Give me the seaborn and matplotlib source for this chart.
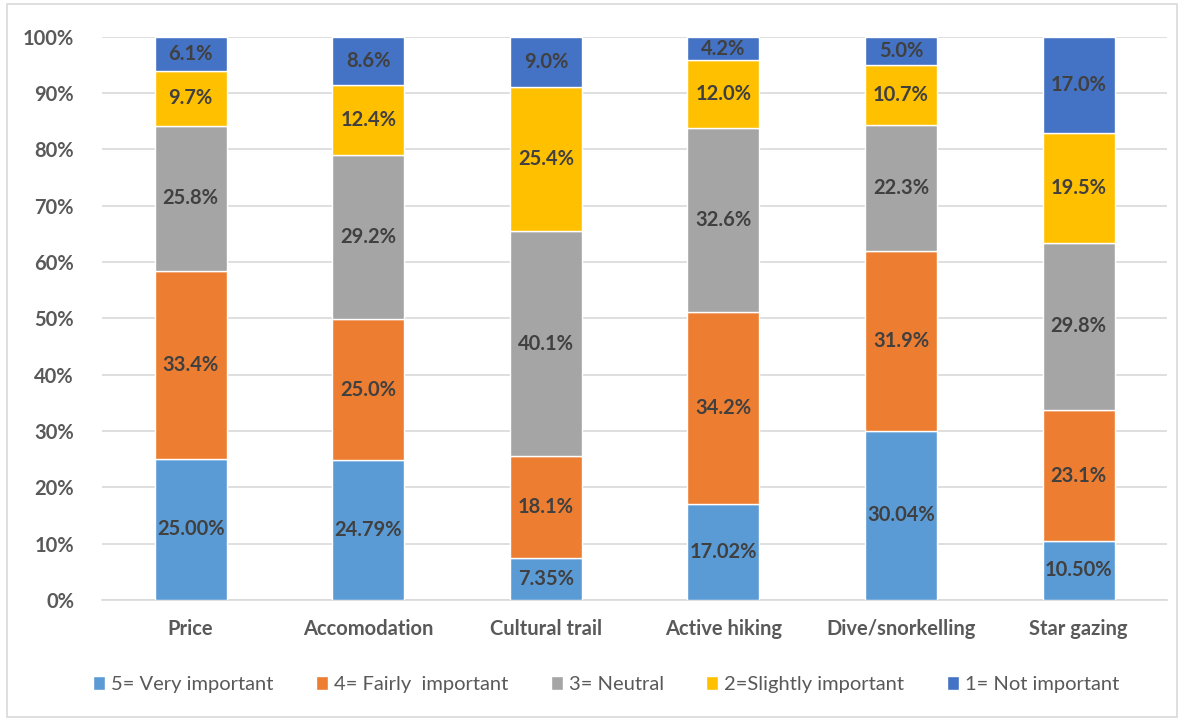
import matplotlib
matplotlib.use("Agg")
import matplotlib.pyplot as plt
import seaborn as sns
import numpy as np
import pandas as pd
from matplotlib.patches import Rectangle

categories = ["Price", "Accomodation", "Cultural trail", "Active hiking", "Dive/snorkelling", "Star gazing"]
series_names = ["5= Very important", "4= Fairly  important", "3= Neutral", "2=Slightly important", "1= Not important"]
very_important = [25.00, 24.79, 7.35, 17.02, 30.04, 10.50]
fairly_important = [33.4, 25.0, 18.1, 34.2, 31.9, 23.1]
neutral = [25.8, 29.2, 40.1, 32.6, 22.3, 29.8]
slightly_important = [9.7, 12.4, 25.4, 12.0, 10.7, 19.5]
not_important = [6.1, 8.6, 9.0, 4.2, 5.0, 17.0]
colors = ["#5B9BD5", "#ED7D31", "#A5A5A5", "#FFC000", "#4472C4"]
label_fmt = ["{:.2f}%", "{:.1f}%", "{:.1f}%", "{:.1f}%", "{:.1f}%"]

series = [very_important, fairly_important, neutral, slightly_important, not_important]
arr = np.array(series, dtype=float)
totals = arr.sum(axis=0)
norm = arr / totals * 100.0

sns.set_theme(style="white")
plt.rcParams['font.family'] = ['Lato', 'DejaVu Sans']

fig = plt.figure(figsize=(11.84, 7.21), dpi=100)
ax = fig.add_axes([0.086, 0.168, 0.900, 0.781])

bottom = np.zeros(len(categories))
for i, name in enumerate(series_names):
    df = pd.DataFrame({"cat": categories, "val": norm[i]})
    sns.barplot(data=df, x="cat", y="val", ax=ax, color=colors[i], bottom=bottom,
                width=0.405, label=name, saturation=1, zorder=3)
    cont = ax.containers[-1]
    labels = [label_fmt[i].format(v) for v in arr[i]]
    ax.bar_label(cont, labels=labels, label_type="center", fontsize=14.5,
                 fontweight="bold", color="#404040")
    bottom = bottom + norm[i]

handles, labs = ax.get_legend_handles_labels()
if ax.get_legend() is not None:
    ax.get_legend().remove()

ax.set_ylim(0, 100)
ax.set_xlim(-0.5, len(categories) - 0.5)
ax.set_yticks(np.arange(0, 101, 10))
ax.set_yticklabels([f"{v}%" for v in range(0, 101, 10)])
ax.yaxis.grid(True, color="#D9D9D9", linewidth=1.2, zorder=0)
ax.set_axisbelow(True)
for s in ["top", "right", "left"]:
    ax.spines[s].set_visible(False)
ax.spines["bottom"].set_color("#D9D9D9")
ax.spines["bottom"].set_linewidth(1.2)
ax.set_xlabel("")
ax.set_ylabel("")
ax.tick_params(axis="both", length=0, labelsize=14.5, labelcolor="#595959")
ax.tick_params(axis="x", pad=14)
ax.tick_params(axis="y", pad=20)
for t in ax.get_xticklabels() + ax.get_yticklabels():
    t.set_fontweight("bold")

leg = fig.legend(handles, labs, loc="center", bbox_to_anchor=(0.512, 0.051), ncol=5,
                 frameon=False, fontsize=14.5, handlelength=0.6, handleheight=0.7,
                 handletextpad=0.3, columnspacing=2.1)
for t in leg.get_texts():
    t.set_color("#595959")

fig.patches.append(Rectangle((0.006, 0.006), 0.988, 0.988, transform=fig.transFigure,
                             fill=False, edgecolor="#D9D9D9", linewidth=1.2))

fig.savefig("out.png", dpi=100)
